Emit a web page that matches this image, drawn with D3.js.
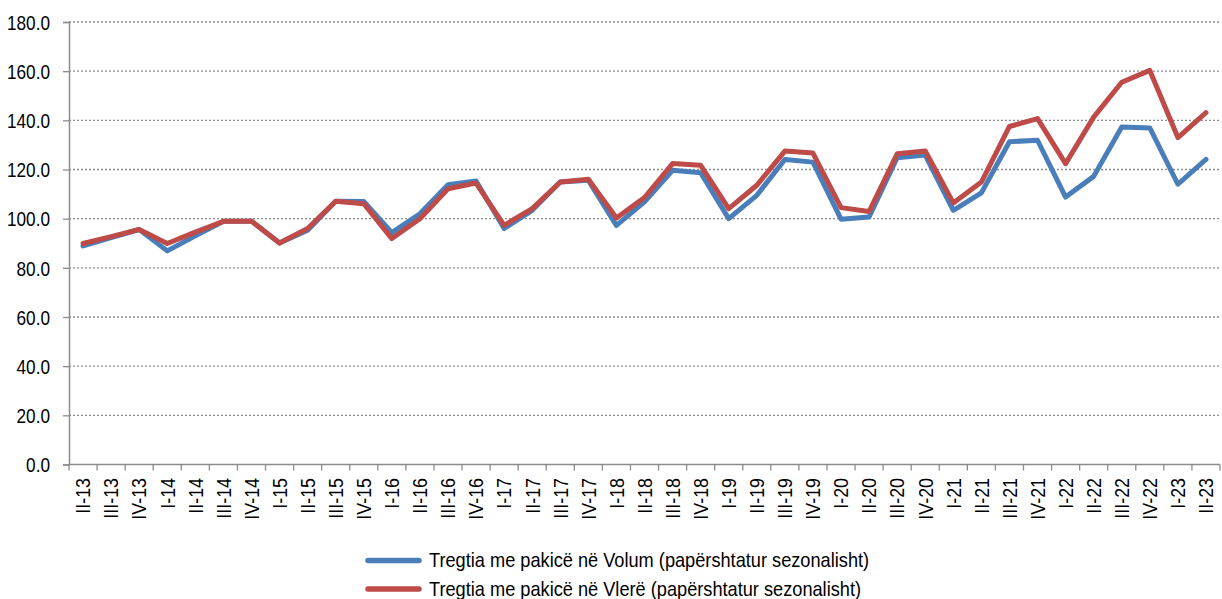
<!DOCTYPE html>
<html>
<head>
<meta charset="utf-8">
<script src="https://cdn.jsdelivr.net/npm/d3@7"></script>
<style>
  html, body { margin: 0; padding: 0; background: #fff; overflow: hidden; }
  svg { display: block; font-family: "Liberation Sans", Arial, sans-serif; }
</style>
</head>
<body>
<div id="chart"></div>
<script>
// kategorite (tremujoret)
const quarters = [
  "II-13","III-13","IV-13",
  "I-14","II-14","III-14","IV-14",
  "I-15","II-15","III-15","IV-15",
  "I-16","II-16","III-16","IV-16",
  "I-17","II-17","III-17","IV-17",
  "I-18","II-18","III-18","IV-18",
  "I-19","II-19","III-19","IV-19",
  "I-20","II-20","III-20","IV-20",
  "I-21","II-21","III-21","IV-21",
  "I-22","II-22","III-22","IV-22",
  "I-23","II-23"
]

const volume = [
  88.9, 92.3, 95.6,
  86.9, 93.0, 98.9, 99.0,
  90.1, 95.3, 107.1, 107.0,
  94.3, 102.0, 113.8, 115.3,
  96.0, 103.4, 114.9, 115.6,
  97.3, 106.8, 119.7, 118.7,
  100.0, 109.5, 124.1, 123.0,
  99.8, 100.7, 124.8, 125.9,
  103.4, 110.5, 131.3, 131.9,
  108.8, 117.2, 137.3, 136.9,
  114.0, 124.1
]

const value = [
  89.9, 92.7, 95.6,
  89.9, 94.5, 98.9, 99.0,
  90.1, 96.0, 107.1, 106.1,
  91.9, 100.0, 112.2, 114.5,
  97.3, 104.1, 114.9, 116.0,
  100.3, 108.6, 122.4, 121.7,
  104.1, 113.6, 127.5, 126.7,
  104.5, 102.9, 126.4, 127.5,
  106.4, 114.9, 137.5, 140.7,
  122.4, 141.3, 155.5, 160.3,
  133.0, 143.1
]

const seriesNames = [
  "Tregtia me pakicë në Volum (papërshtatur sezonalisht)",
  "Tregtia me pakicë në Vlerë (papërshtatur sezonalisht)"
]
const seriesColors = ["#4a7ebb", "#be4b48"]

const yTicks = [0, 20, 40, 60, 80, 100, 120, 140, 160, 180]

const width = 1222
const height = 599
const margin = { top: 22, right: 2, bottom: 134.5, left: 69 }
const innerWidth = width - margin.left - margin.right
const innerHeight = height - margin.top - margin.bottom

const svg = d3.select('#chart').append('svg')
  .attr('width', width).attr('height', height)

const g = svg.append('g')
  .attr('transform', `translate(${margin.left},${margin.top})`)

const xScale = d3.scaleBand().domain(quarters).range([0, innerWidth])
const yScale = d3.scaleLinear().domain([0, 180]).range([innerHeight, 0])

// rrjeti horizontal me pika
g.append('g').selectAll('line')
  .data(yTicks.filter(d => d > 0))
  .enter().append('line')
  .attr('x1', 0).attr('x2', innerWidth)
  .attr('y1', d => yScale(d)).attr('y2', d => yScale(d))
  .attr('stroke', '#8c8c8c').attr('stroke-width', 1.3)
  .attr('stroke-dasharray', '2,2')

// boshti y
const yAxis = d3.axisLeft(yScale).tickValues(yTicks)
  .tickFormat(d3.format('.1f')).tickSize(6)
const yAxisG = g.append('g').call(yAxis)
yAxisG.select('.domain').attr('stroke', '#8c8c8c').attr('stroke-width', 1.5)
yAxisG.selectAll('.tick line').attr('stroke', '#8c8c8c').attr('stroke-width', 1.3)
// teksti pak i ngushtuar si ne origjinal
yAxisG.selectAll('.tick text')
  .attr('x', null).attr('dy', null)
  .attr('transform', 'translate(-19,7.2) scale(0.86,1)')
  .attr('font-size', 20).attr('fill', '#000')
  .attr('font-family', '"Liberation Sans", Arial, sans-serif')

// boshti x
const xAxisG = g.append('g').attr('transform', `translate(0,${innerHeight})`)
xAxisG.append('line').attr('x1', 0).attr('x2', innerWidth)
  .attr('stroke', '#8c8c8c').attr('stroke-width', 1.5)
xAxisG.selectAll('.xtick')
  .data(quarters.concat(['end']))
  .enter().append('line')
  .attr('x1', (d, i) => i * xScale.step()).attr('x2', (d, i) => i * xScale.step())
  .attr('y1', 0).attr('y2', 6)
  .attr('stroke', '#8c8c8c').attr('stroke-width', 1.3)
xAxisG.selectAll('text')
  .data(quarters)
  .enter().append('text')
  .attr('transform', d => `translate(${xScale(d) + xScale.bandwidth() / 2 + 7.3},13.5) rotate(-90) scale(0.87,1)`)
  .attr('text-anchor', 'end')
  .attr('font-size', 20.5)
  .text(d => d)

// vijat
const line = d3.line()
  .x((d, i) => xScale(quarters[i]) + xScale.bandwidth() / 2)
  .y(d => yScale(d))

;[volume, value].forEach((s, k) => {
  g.append('path')
    .datum(s)
    .attr('d', line)
    .attr('fill', 'none')
    .attr('stroke', seriesColors[k])
    .attr('stroke-width', 5)
    .attr('stroke-linejoin', 'round')
    .attr('stroke-linecap', 'round')
})

// legjenda
const legend = svg.append('g')
seriesNames.forEach((name, k) => {
  const y = 560.5 + k * 28.5
  legend.append('line')
    .attr('x1', 368).attr('x2', 419).attr('y1', y).attr('y2', y)
    .attr('stroke', seriesColors[k]).attr('stroke-width', 5.5)
    .attr('stroke-linecap', 'round')
  legend.append('text')
    .attr('transform', `translate(429,${y + 6.8}) scale(0.91,1)`)
    .attr('font-size', 20)
    .text(name)
})
</script>
</body>
</html>
